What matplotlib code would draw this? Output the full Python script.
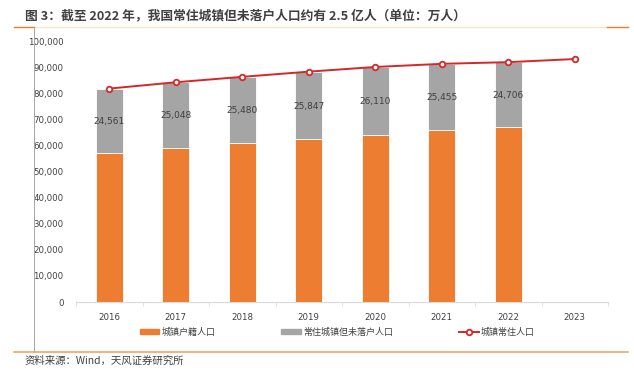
import numpy as np
import matplotlib
matplotlib.use("Agg")
from matplotlib import pyplot as plt
from matplotlib.lines import Line2D
from matplotlib.patches import Patch

plt.rcParams["font.family"] = ["Noto Sans CJK SC", "DejaVu Sans"]

years = ["2016", "2017", "2018", "2019", "2020", "2021", "2022", "2023"]
hukou = [57363, 59295, 60953, 62579, 64110, 65970, 67365]          # 城镇户籍人口
unsettled = [24561, 25048, 25480, 25847, 26110, 25455, 24706]      # 常住城镇但未落户人口
resident = [81924, 84343, 86433, 88426, 90220, 91425, 92071, 93267]  # 城镇常住人口

orange = "#ed7d31"
grey = "#a5a5a5"
red = "#d62728"

fig = plt.figure(figsize=(6.34, 3.81), dpi=100)
ax = fig.add_axes([76 / 634, 79 / 381, 532 / 634, 260.5 / 381])

x = np.arange(len(years))
xb = x[: len(hukou)]
ax.bar(xb, hukou, width=0.4, color=orange, edgecolor="white", linewidth=0.6, zorder=2)
ax.bar(xb, unsettled, width=0.4, bottom=hukou, color=grey, edgecolor="white",
       linewidth=0.6, zorder=2)
for xi, h, u in zip(xb, hukou, unsettled):
    ax.text(xi, h + u / 2 - 300, f"{u:,}", ha="center", va="center",
            fontsize=6.5, color="#404040", family=["DejaVu Sans"], zorder=3)

ax.plot(x, resident, color=red, linewidth=1.4, marker="o", markersize=4,
        markerfacecolor="white", markeredgecolor=red, markeredgewidth=1.3, zorder=4)

ax.set_xlim(-0.5, len(years) - 0.5)
ax.set_ylim(0, 100000)
ax.set_yticks(np.arange(0, 100001, 10000))
ax.set_yticklabels([f"{v:,}" for v in range(0, 100001, 10000)],
                   fontsize=6.2, color="#404040", family=["DejaVu Sans"])
ax.set_xticks(x)
ax.set_xticklabels(years, fontsize=6.2, color="#404040", family=["DejaVu Sans"])
ax.set_xticks(np.arange(-0.5, len(years)), minor=True)
ax.tick_params(axis="y", length=0, pad=9)
ax.tick_params(axis="x", which="major", length=0, pad=8)
ax.tick_params(axis="x", which="minor", length=3, color="#d9d9d9", direction="out")
for s in ["top", "right", "left"]:
    ax.spines[s].set_visible(False)
ax.spines["bottom"].set_color("#d9d9d9")

handles = [
    Patch(color=orange, label="城镇户籍人口"),
    Patch(color=grey, label="常住城镇但未落户人口"),
    Line2D([], [], color=red, linewidth=1.4, marker="o", markersize=4,
           markerfacecolor="white", markeredgewidth=1.3, label="城镇常住人口"),
]
fig.legend(handles=handles, loc="center", bbox_to_anchor=(337 / 634, 1 - 332 / 381),
           ncol=3, frameon=False, fontsize=6.5, handlelength=2.2, handleheight=0.6,
           columnspacing=7.3, handletextpad=0.2, labelcolor="#404040",
           borderpad=0, borderaxespad=0)

# title, frame lines, source
fig.text(25 / 634, 1 - 16 / 381,
         "图 3：截至 2022 年，我国常住城镇但未落户人口约有 2.5 亿人（单位：万人）",
         fontsize=9.2, fontweight="bold", color="#404040", va="center")
fig.add_artist(Line2D([14 / 634, 628 / 634], [1 - 27 / 381] * 2, color="#fbe0c8",
                      linewidth=0.9))
fig.add_artist(Line2D([14 / 634, 34 / 634], [1 - 27 / 381] * 2, color=orange,
                      linewidth=1.0))
fig.add_artist(Line2D([607 / 634, 628 / 634], [1 - 27 / 381] * 2, color=orange,
                      linewidth=1.0))
fig.add_artist(Line2D([34 / 634, 34 / 634], [1 - 27 / 381, 1 - 352 / 381],
                      color="#a6a6a6", linewidth=0.7))
fig.add_artist(Line2D([14 / 634, 628 / 634], [1 - 352 / 381] * 2, color="#f4a460",
                      linewidth=1.2))
fig.text(25 / 634, 1 - 361 / 381, "资料来源：Wind，天风证券研究所", fontsize=7.5,
         color="#404040", va="center")

fig.savefig("out.png", dpi=100)
